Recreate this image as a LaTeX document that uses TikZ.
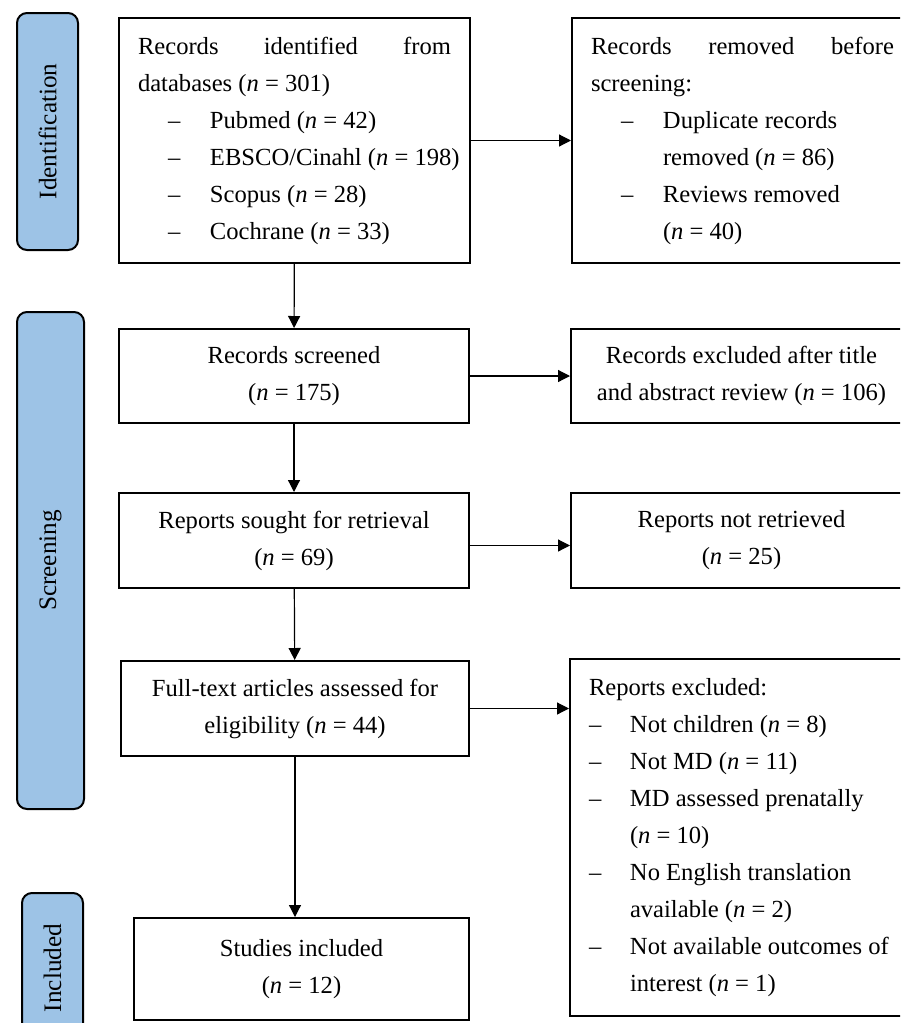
\documentclass[tikz,border=0pt]{standalone}
\usepackage{fontspec}
\setmainfont{Liberation Serif}
\usepackage{xcolor}
\usepackage{tikz}
\usetikzlibrary{arrows.meta,positioning,calc}
\definecolor{phaseblue}{RGB}{157,195,230}
\tikzstyle{PHASE} = [rectangle, draw, line width=1pt, rounded corners=5pt, fill=phaseblue, rotate=90, inner sep=0pt, font=\fontsize{12.6}{13}\selectfont]
\tikzstyle{BOX} = [rectangle, draw, line width=1pt, align=center, inner sep=0pt, font=\fontsize{12.3}{18.5}\selectfont]
\tikzstyle{LISTBOX} = [rectangle, draw, line width=1pt, align=flush left, inner xsep=9.5pt, inner ysep=0pt, text width=151.5pt, font=\fontsize{12.3}{18.5}\selectfont]
\tikzstyle{LINE} = [draw, line width=0.6pt, -{Triangle[length=6pt,width=6pt]}]
\newcommand{\DBITEM}[1]{\hspace*{15pt}\makebox[21pt][l]{--}\mbox{#1}}
\newcommand{\DBCONT}[1]{\hspace*{36pt}\mbox{#1}}
\newcommand{\EXITEM}[1]{\makebox[20.5pt][l]{--}\mbox{#1}}
\newcommand{\EXCONT}[1]{\hspace*{20.5pt}\mbox{#1}}
\newcommand{\N}{\textit{n}}
\begin{document}
\begin{tikzpicture}[x=0.5pt, y=-0.5pt]
\useasboundingbox (0,0) rectangle (900,1023);
\clip (0,0) rectangle (900,1023);
% Phases
\node [PHASE, minimum width=118.5pt, minimum height=30.5pt] (PH_ID) at (47.5,131.5) {Identification};
\node [PHASE, minimum width=248.5pt, minimum height=33.5pt] (PH_SCREEN) at (50.5,560.5) {Screening};
\node [PHASE, minimum width=75pt, minimum height=30.5pt] (PH_INC) at (52.5,968) {Included};
% Place node
\node [LISTBOX, text width=156.5pt, minimum height=122.5pt, anchor=north west] (IDENTIFIED) at (118,17)
  {\makebox[156.5pt][s]{Records identified from}\\
   databases (\N{} = 301)\\
   \DBITEM{Pubmed (\N{} = 42)}\\
   \DBITEM{EBSCO/Cinahl (\N{} = 198)}\\
   \DBITEM{Scopus (\N{} = 28)}\\
   \DBITEM{Cochrane (\N{} = 33)}};
\node [LISTBOX, minimum height=122.5pt, right=50pt of IDENTIFIED] (REMOVED)
  {\makebox[151.5pt][s]{Records removed before}\\
   screening:\\
   \DBITEM{Duplicate records}\\
   \DBCONT{removed (\N{} = 86)}\\
   \DBITEM{Reviews removed}\\
   \DBCONT{(\N{} = 40)}};
\node [BOX, minimum width=175pt, minimum height=47pt, anchor=north west] (SCREENED) at (118,328) {Records screened\\(\N{} = 175)};
\node [BOX, minimum width=170.5pt, minimum height=47pt, right=50pt of SCREENED] (EXCLUDED) {Records excluded after title\\and abstract review (\N{} = 106)};
\node [BOX, minimum width=175pt, minimum height=47.5pt, anchor=north west] (SOUGHT) at (118,492) {Reports sought for retrieval\\(\N{} = 69)};
\node [BOX, minimum width=170.5pt, minimum height=47.5pt, right=50pt of SOUGHT] (NOT_RETRIEVED) {Reports not retrieved\\(\N{} = 25)};
\node [BOX, minimum width=174pt, minimum height=47.5pt, anchor=north west] (ASSESSED) at (120,660) {Full-text articles assessed for\\eligibility (\N{} = 44)};
\node [LISTBOX, minimum height=178.5pt, anchor=north west] (REPORTS_EXCL) at (569,658)
  {Reports excluded:\\
   \EXITEM{Not children (\N{} = 8)}\\
   \EXITEM{Not MD (\N{} = 11)}\\
   \EXITEM{MD assessed prenatally}\\
   \EXCONT{(\N{} = 10)}\\
   \EXITEM{No English translation}\\
   \EXCONT{available (\N{} = 2)}\\
   \EXITEM{Not available outcomes of}\\
   \EXCONT{interest (\N{} = 1)}};
\node [BOX, minimum width=167.5pt, minimum height=51pt, anchor=north west] (INCLUDED) at (133,917) {Studies included\\(\N{} = 12)};
% LINES and ARROWS
\path [LINE] (IDENTIFIED) -- (REMOVED);
\path [LINE] (IDENTIFIED) -- (SCREENED);
\path [LINE] (SCREENED) -- (EXCLUDED);
\path [LINE] (SCREENED) -- (SOUGHT);
\path [LINE] ($(SOUGHT.east)+(0,5)$) -- ($(NOT_RETRIEVED.west)+(0,5)$);
\path [LINE] (SOUGHT) -- (ASSESSED);
\path [LINE] (ASSESSED.east) -- (ASSESSED.east -| REPORTS_EXCL.west);
\path [LINE] (ASSESSED.south) -- (ASSESSED.south |- INCLUDED.north);
\end{tikzpicture}
\end{document}
